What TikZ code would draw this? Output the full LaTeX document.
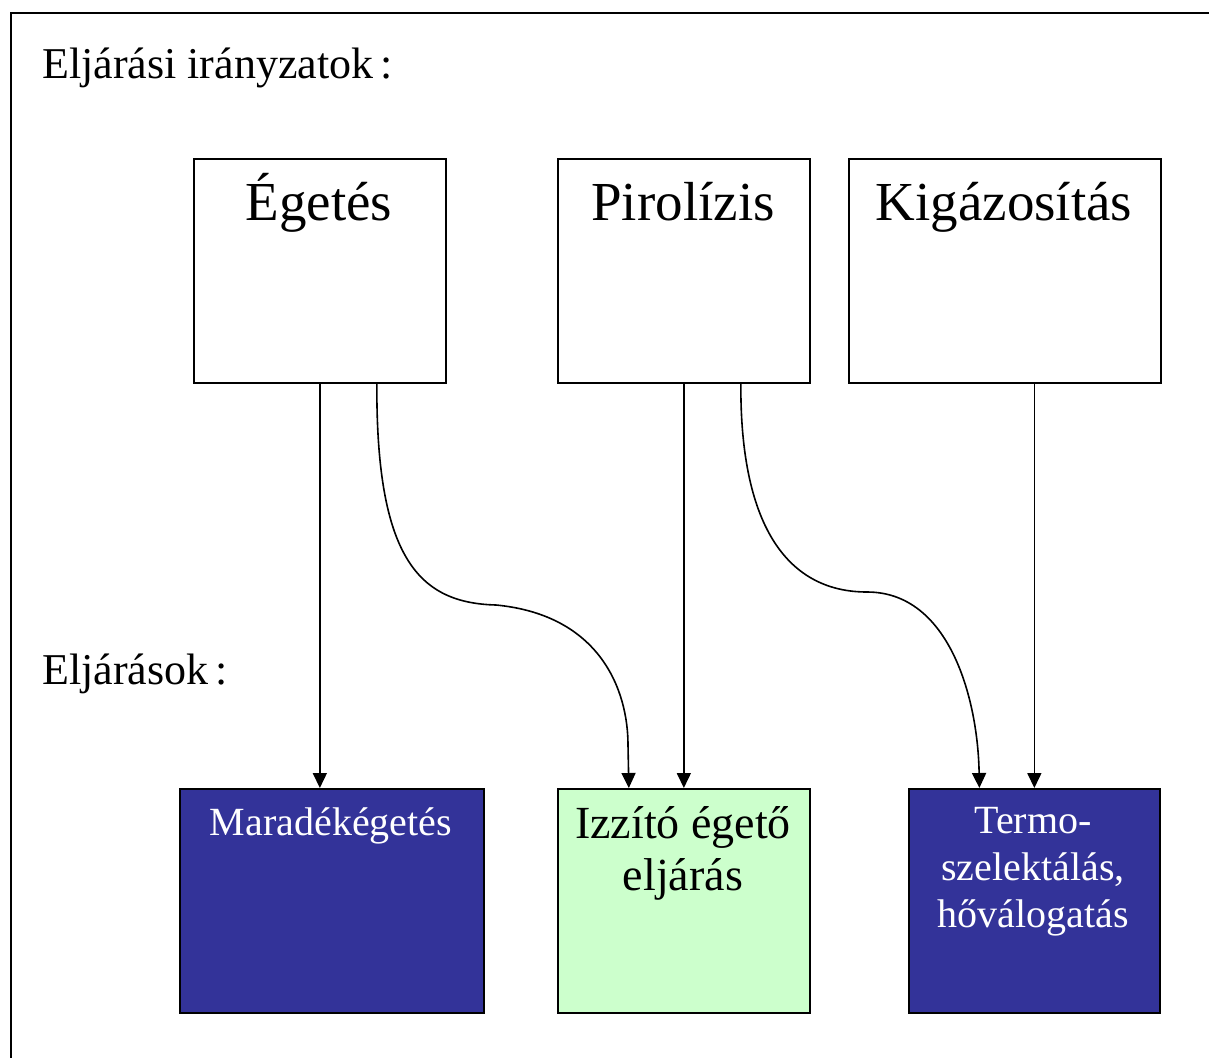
\documentclass[tikz,border=0pt]{standalone}
\usepackage{fontspec}
\setmainfont{Liberation Serif}
\usetikzlibrary{arrows.meta,calc}
\definecolor{deepblue}{HTML}{333399}
\definecolor{palegreen}{HTML}{CCFFCC}
\tikzset{
  box/.style={draw=black, line width=1.7pt, rectangle, inner sep=0pt, anchor=north west},
  title/.style={font=\fontsize{55}{60}\selectfont, anchor=base, inner sep=0pt},
  heading/.style={font=\fontsize{44}{50}\selectfont, anchor=base west, inner sep=0pt},
  flow/.style={line width=1.6pt, -{Triangle[width=14pt,length=15pt]}},
}
\begin{document}
\begin{tikzpicture}[x=1pt,y=-1pt]
\useasboundingbox (0,0) rectangle (1209,1057);
% outer frame
\draw[line width=2pt] (11,1060) -- (11,13) -- (1212,13);

\node[heading] (h1) at (42,78) {Eljárási irányzatok\,:};
\node[heading] (h2) at (42,684) {Eljárások\,:};

% process directions
\node[box, minimum width=252pt, minimum height=224pt] (eg) at (193,158) {};
\node[box, minimum width=252pt, minimum height=224pt] (pi) at (557,158) {};
\node[box, minimum width=312pt, minimum height=224pt] (ki) at (848,158) {};
\node[title] (teg) at (319,220) {Égetés};
\node[title] (tpi) at (683,220) {Pirolízis};
\node[title] (tki) at (1004,220) {Kigázosítás};

% processes
\node[box, fill=deepblue, minimum width=304pt, minimum height=224pt] (ma) at (179,788) {};
\node[box, fill=palegreen, minimum width=252pt, minimum height=224pt] (iz) at (557,788) {};
\node[box, fill=deepblue, minimum width=251pt, minimum height=224pt] (te) at (908,788) {};
\node[anchor=base, inner sep=0pt, text=white, font=\fontsize{40}{47}\selectfont] (tma) at (331,835) {Maradékégetés};
\node[anchor=north, inner sep=0pt, align=center, font=\fontsize{46}{52}\selectfont] (tiz) at (683,806) {Izzító égető\\eljárás};
\node[anchor=north, inner sep=0pt, align=center, text=white, font=\fontsize{40}{47}\selectfont] (tte) at (1033,807) {Termo-\\szelektálás,\\hőválogatás};

% connectors
\draw[flow] (eg.south) -- (eg.south |- ma.north);
\draw[flow] ([xshift=57pt]eg.south) .. controls (376,560) and (420,603) .. (496,605)
  .. controls (600,615) and (628,690) .. (628,745) -- ([xshift=-55pt]iz.north);
\draw[flow] (pi.south) -- (pi.south |- iz.north);
\draw[flow] ([xshift=57pt]pi.south) .. controls (740,530) and (790,592) .. (867,592)
  .. controls (950,592) and (978,700) .. ([xshift=-55pt]te.north);
\draw[flow] (ki.south -| te.north) -- (te.north);
\end{tikzpicture}
\end{document}
